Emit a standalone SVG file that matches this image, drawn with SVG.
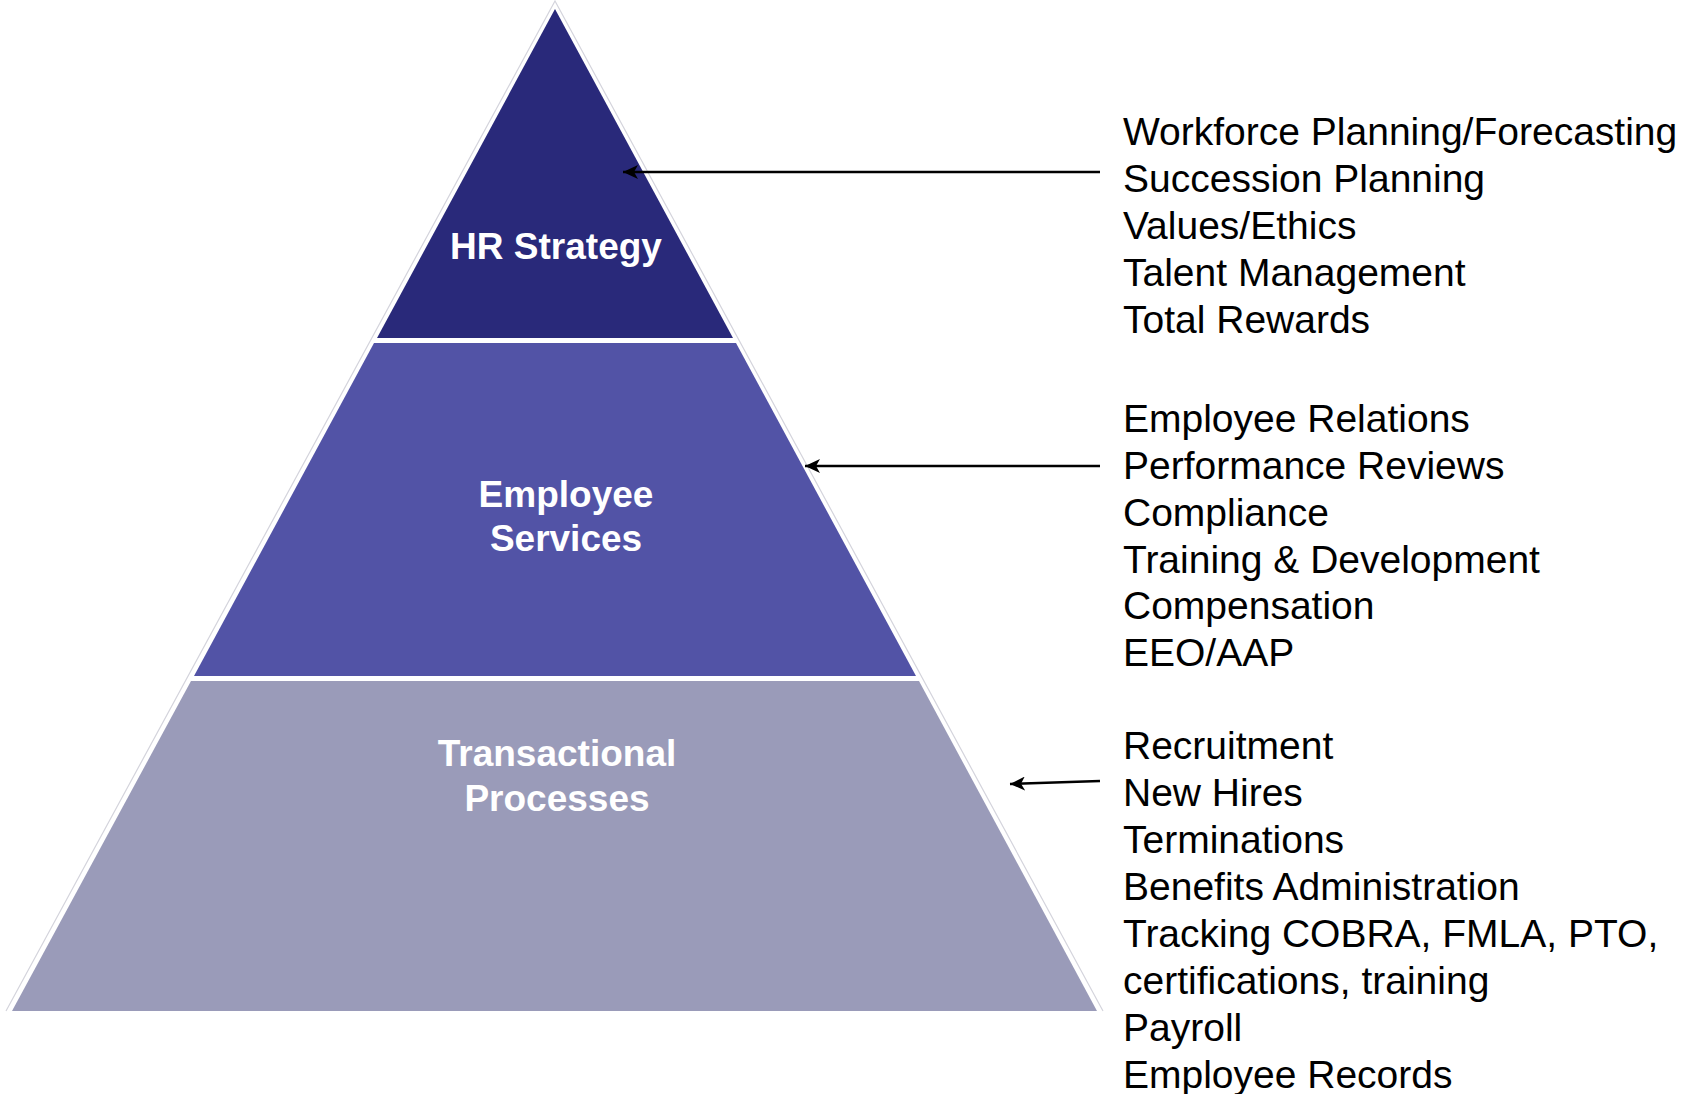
<svg xmlns="http://www.w3.org/2000/svg" width="1691" height="1094" viewBox="0 0 1691 1094">
  <style>
    .tier-label { font-family: "Liberation Sans", Arial, sans-serif; font-weight: bold; font-size: 37px; fill: #ffffff; text-anchor: middle; }
    .item { font-family: "Liberation Sans", Arial, sans-serif; font-size: 39px; fill: #000000; }
    .link { stroke: #000000; stroke-width: 2.5; fill: none; marker-end: url(#arrowhead); }
  </style>
  <defs>
    <marker id="arrowhead" markerUnits="userSpaceOnUse" markerWidth="16" markerHeight="14" refX="15" refY="7" orient="auto">
      <path d="M0,0 L15,7 L0,14 L4,7 Z" fill="#000000"/>
    </marker>
  </defs>
  <rect width="1691" height="1094" fill="#ffffff"/>

  <!-- faint outline around the pyramid -->
  <polyline points="6,1011 555,1 1103,1011" fill="none" stroke="#d4d4dc" stroke-width="1.2"/>

  <g id="hr-strategy">
    <polygon points="555,9 733,338 377,338" fill="#29297a"/>
    <text class="tier-label" x="556" y="259">HR Strategy</text>
  </g>

  <g id="employee-services">
    <polygon points="374,343 736,343 916,676 194,676" fill="#5253a6"/>
    <text class="tier-label" x="566" y="507">Employee</text>
    <text class="tier-label" x="566" y="551">Services</text>
  </g>

  <g id="transactional-processes">
    <polygon points="191,681 919,681 1097,1011 12,1011" fill="#9a9bb9"/>
    <text class="tier-label" x="557" y="766">Transactional</text>
    <text class="tier-label" x="557" y="811">Processes</text>
  </g>

  <g id="connectors">
    <line class="link" x1="1100" y1="172" x2="623" y2="172"/>
    <line class="link" x1="1100" y1="466" x2="805" y2="466"/>
    <line class="link" x1="1100" y1="781" x2="1010" y2="784"/>
  </g>

  <g id="strategy-items">
    <text class="item" x="1123" y="145">Workforce Planning/Forecasting</text>
    <text class="item" x="1123" y="192">Succession Planning</text>
    <text class="item" x="1123" y="239">Values/Ethics</text>
    <text class="item" x="1123" y="286">Talent Management</text>
    <text class="item" x="1123" y="333">Total Rewards</text>
  </g>

  <g id="services-items">
    <text class="item" x="1123" y="432">Employee Relations</text>
    <text class="item" x="1123" y="479">Performance Reviews</text>
    <text class="item" x="1123" y="526">Compliance</text>
    <text class="item" x="1123" y="573">Training &amp; Development</text>
    <text class="item" x="1123" y="619">Compensation</text>
    <text class="item" x="1123" y="666">EEO/AAP</text>
  </g>

  <g id="transactional-items">
    <text class="item" x="1123" y="759">Recruitment</text>
    <text class="item" x="1123" y="806">New Hires</text>
    <text class="item" x="1123" y="853">Terminations</text>
    <text class="item" x="1123" y="900">Benefits Administration</text>
    <text class="item" x="1123" y="947">Tracking COBRA, FMLA, PTO,</text>
    <text class="item" x="1123" y="994">certifications, training</text>
    <text class="item" x="1123" y="1041">Payroll</text>
    <text class="item" x="1123" y="1088">Employee Records</text>
  </g>
</svg>
